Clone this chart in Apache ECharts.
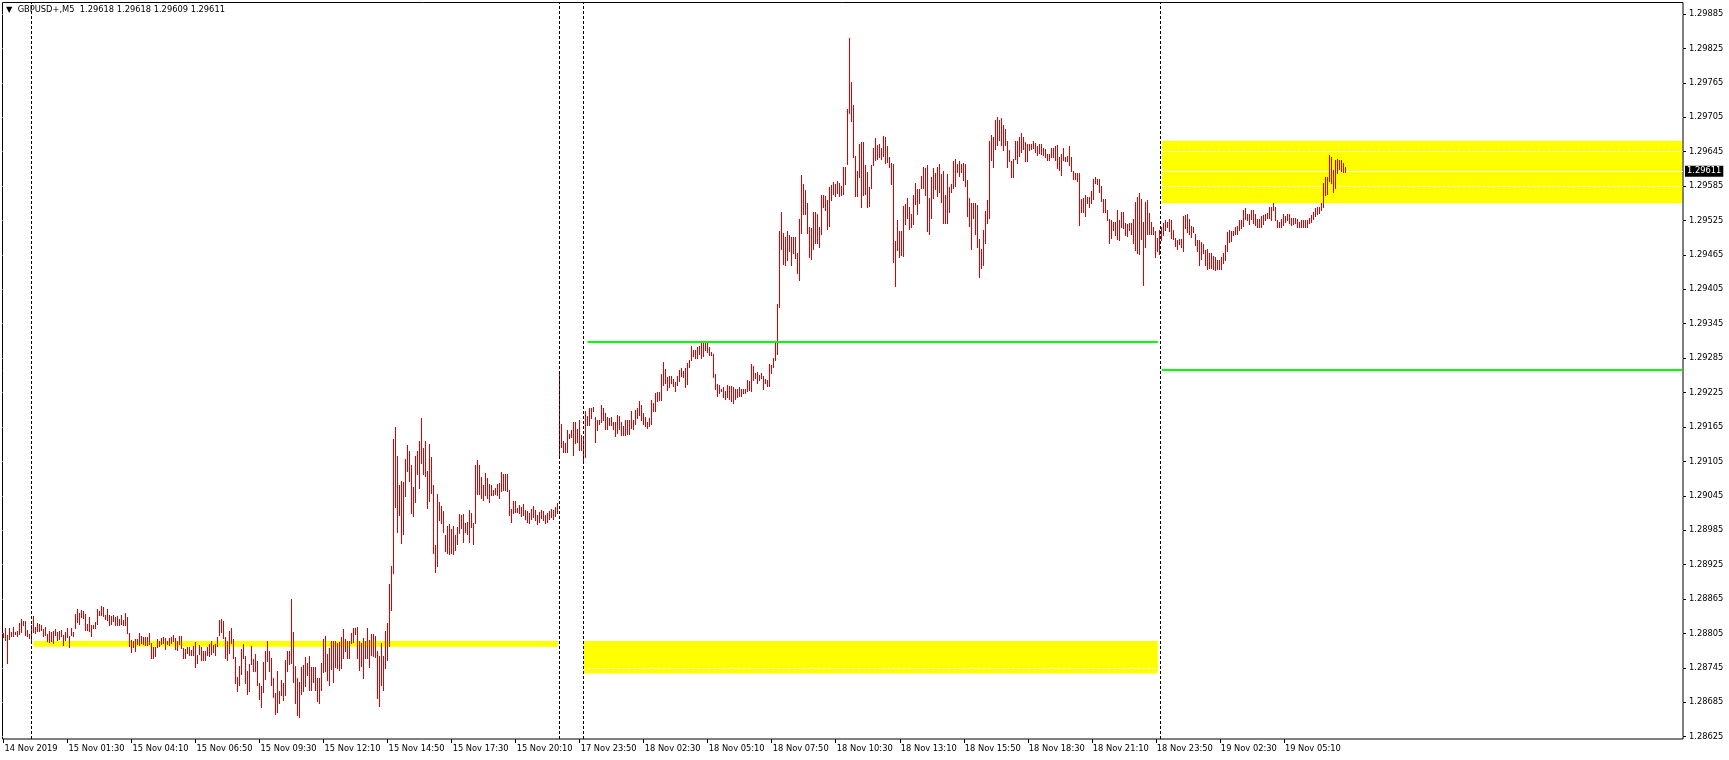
<!DOCTYPE html>
<html><head><meta charset="utf-8">
<script src="https://cdn.jsdelivr.net/npm/echarts@6/dist/echarts.min.js"></script>
<style>html,body{margin:0;padding:0;background:#fff}#c{width:1729px;height:760px}</style>
</head><body><div id="c"></div>
<script>
// ---------- data ----------
const chartTitle = '\u25BC  GBPUSD+,M5  1.29618 1.29618 1.29609 1.29611';
const xLabels = ['14 Nov 2019','15 Nov 01:30','15 Nov 04:10','15 Nov 06:50','15 Nov 09:30','15 Nov 12:10','15 Nov 14:50','15 Nov 17:30','15 Nov 20:10','17 Nov 23:50','18 Nov 02:30','18 Nov 05:10','18 Nov 07:50','18 Nov 10:30','18 Nov 13:10','18 Nov 15:50','18 Nov 18:30','18 Nov 21:10','18 Nov 23:50','19 Nov 02:30','19 Nov 05:10'];
const barsPerLabel = 32;
const slotCount = 840;
const yTicks = [1.28625,1.28685,1.28745,1.28805,1.28865,1.28925,1.28985,1.29045,1.29105,1.29165,1.29225,1.29285,1.29345,1.29405,1.29465,1.29525,1.29585,1.29645,1.29705,1.29765,1.29825,1.29885];
const yMin = 1.28621, yMax = 1.29905;

const nov14High = [1.28806,1.28814,1.28803,1.28814,1.28808,1.28817,1.28807,1.28810,1.28824,1.28831,1.28827,1.28827,1.28811,1.28804];
const nov14Low  = [1.28798,1.28794,1.28753,1.28795,1.28801,1.28801,1.28804,1.28801,1.28804,1.28807,1.28820,1.28803,1.28800,1.28797];

const nov15High = [
1.28820,1.28836,1.28817,1.28824,1.28822,1.28820,1.28812,1.28816,1.28804,1.28810,
1.28807,1.28810,1.28813,1.28807,1.28810,1.28811,1.28803,1.28808,1.28815,1.28801,
1.28814,1.28807,1.28839,1.28848,1.28840,1.28846,1.28844,1.28839,1.28821,1.28833,
1.28820,1.28820,1.28825,1.28847,1.28845,1.28853,1.28851,1.28838,1.28848,1.28838,
1.28835,1.28838,1.28833,1.28836,1.28831,1.28838,1.28829,1.28841,1.28834,1.28806,
1.28794,1.28791,1.28796,1.28796,1.28806,1.28801,1.28799,1.28799,1.28799,1.28806,
1.28788,1.28782,1.28781,1.28796,1.28792,1.28797,1.28798,1.28797,1.28792,1.28797,
1.28799,1.28803,1.28797,1.28792,1.28800,1.28801,1.28779,1.28778,1.28782,1.28781,
1.28776,1.28783,1.28790,1.28768,1.28785,1.28781,1.28775,1.28775,1.28781,1.28786,
1.28791,1.28785,1.28786,1.28799,1.28828,1.28831,1.28826,1.28799,1.28791,1.28810,
1.28815,1.28795,1.28764,1.28729,1.28749,1.28778,1.28786,1.28765,1.28740,1.28752,
1.28784,1.28761,1.28770,1.28757,1.28718,1.28714,1.28756,1.28774,1.28791,1.28775,
1.28762,1.28727,1.28702,1.28740,1.28704,1.28724,1.28718,1.28759,1.28775,1.28775,
1.28865,1.28807,1.28749,1.28727,1.28721,1.28747,1.28750,1.28764,1.28753,1.28765,
1.28747,1.28747,1.28747,1.28727,1.28727,1.28753,1.28796,1.28801,1.28770,1.28779,
1.28791,1.28791,1.28791,1.28788,1.28790,1.28799,1.28813,1.28795,1.28792,1.28792,
1.28805,1.28814,1.28815,1.28817,1.28791,1.28788,1.28797,1.28791,1.28814,1.28794,
1.28804,1.28804,1.28801,1.28775,1.28765,1.28788,1.28765,1.28810,1.28824,1.28891,
1.28922,1.29144,1.29165,1.29114,1.29063,1.29071,1.29069,1.29109,1.29134,1.29123,
1.29098,1.29061,1.29114,1.29123,1.29141,1.29180,1.29128,1.29140,1.29089,1.29135,
1.29113,1.29064,1.28960,1.29048,1.29035,1.29028,1.29019,1.28977,1.28993,1.28996,
1.28987,1.28993,1.28977,1.28991,1.29013,1.29011,1.29013,1.28998,1.28999,1.29021,
1.29015,1.28998,1.29098,1.29108,1.29099,1.29078,1.29064,1.29085,1.29076,1.29065,
1.29064,1.29055,1.29058,1.29065,1.29067,1.29086,1.29083,1.29083,1.29083,1.29055,
1.29022,1.29036,1.29036,1.29023,1.29029,1.29025,1.29030,1.29020,1.29018,1.29015,
1.29022,1.29028,1.29020,1.29012,1.29016,1.29020,1.29018,1.29012,1.29015,1.29018,
1.29022,1.29020,1.29026,1.29032];
const nov15Low = [
1.28794,1.28808,1.28805,1.28810,1.28810,1.28811,1.28800,1.28803,1.28791,1.28790,
1.28791,1.28788,1.28803,1.28794,1.28796,1.28801,1.28785,1.28794,1.28798,1.28782,
1.28803,1.28800,1.28815,1.28825,1.28822,1.28833,1.28832,1.28811,1.28811,1.28810,
1.28801,1.28814,1.28814,1.28821,1.28837,1.28838,1.28835,1.28831,1.28828,1.28820,
1.28822,1.28826,1.28819,1.28819,1.28819,1.28821,1.28820,1.28820,1.28805,1.28784,
1.28772,1.28782,1.28774,1.28786,1.28785,1.28788,1.28786,1.28785,1.28785,1.28786,
1.28762,1.28762,1.28765,1.28781,1.28784,1.28786,1.28788,1.28778,1.28786,1.28785,
1.28788,1.28792,1.28778,1.28777,1.28786,1.28779,1.28762,1.28762,1.28771,1.28767,
1.28768,1.28767,1.28747,1.28753,1.28769,1.28758,1.28758,1.28758,1.28768,1.28765,
1.28769,1.28772,1.28768,1.28784,1.28803,1.28808,1.28797,1.28762,1.28758,1.28771,
1.28788,1.28762,1.28718,1.28705,1.28716,1.28735,1.28762,1.28718,1.28700,1.28704,
1.28752,1.28739,1.28740,1.28716,1.28691,1.28676,1.28703,1.28726,1.28757,1.28740,
1.28716,1.28695,1.28664,1.28668,1.28683,1.28698,1.28689,1.28697,1.28739,1.28752,
1.28753,1.28720,1.28684,1.28663,1.28660,1.28699,1.28705,1.28714,1.28733,1.28707,
1.28707,1.28720,1.28707,1.28688,1.28684,1.28707,1.28738,1.28739,1.28724,1.28716,
1.28743,1.28721,1.28746,1.28745,1.28742,1.28745,1.28762,1.28774,1.28763,1.28762,
1.28788,1.28790,1.28804,1.28762,1.28741,1.28749,1.28727,1.28762,1.28762,1.28746,
1.28768,1.28765,1.28764,1.28693,1.28678,1.28716,1.28706,1.28745,1.28759,1.28784,
1.28846,1.28910,1.29026,1.28982,1.29012,1.28962,1.28978,1.29044,1.29089,1.29070,
1.29015,1.29009,1.29034,1.29083,1.29058,1.29102,1.29083,1.29080,1.29023,1.29036,
1.29050,1.28945,1.28913,1.28922,1.29003,1.28997,1.28982,1.28949,1.28945,1.28944,
1.28945,1.28943,1.28950,1.28961,1.28980,1.28989,1.28965,1.28982,1.28978,1.28965,
1.28990,1.28961,1.28997,1.29049,1.29048,1.29041,1.29037,1.29047,1.29041,1.29035,
1.29047,1.29046,1.29049,1.29046,1.29042,1.29053,1.29055,1.29055,1.29054,1.29011,
1.29000,1.29015,1.29016,1.29016,1.29015,1.29010,1.29012,1.29005,1.29000,1.28998,
1.29004,1.29008,1.29002,1.28996,1.28999,1.29006,1.29002,1.28998,1.29000,1.29004,
1.29008,1.29005,1.29010,1.29015];

const nov17High = [1.29262,1.29170,1.29141,1.29137,1.29160,1.29153,1.29160,1.29174,1.29174,1.29162,1.29177,1.29151];
const nov17Low  = [1.29114,1.29130,1.29122,1.29122,1.29122,1.29145,1.29147,1.29116,1.29137,1.29138,1.29124,1.29124];

const nov18High = [
1.29144,1.29193,1.29184,1.29198,1.29198,1.29199,1.29182,1.29178,1.29177,1.29203,
1.29198,1.29190,1.29183,1.29180,1.29183,1.29174,1.29173,1.29186,1.29184,1.29174,
1.29167,1.29177,1.29177,1.29177,1.29193,1.29177,1.29195,1.29198,1.29211,1.29203,
1.29189,1.29183,1.29174,1.29180,1.29212,1.29206,1.29224,1.29226,1.29226,1.29257,
1.29278,1.29266,1.29252,1.29253,1.29254,1.29248,1.29244,1.29254,1.29264,1.29267,
1.29262,1.29267,1.29276,1.29282,1.29306,1.29300,1.29300,1.29304,1.29306,1.29312,
1.29313,1.29314,1.29313,1.29305,1.29296,1.29292,1.29257,1.29240,1.29238,1.29232,
1.29235,1.29228,1.29238,1.29237,1.29237,1.29235,1.29232,1.29232,1.29235,1.29231,
1.29232,1.29232,1.29247,1.29246,1.29275,1.29271,1.29259,1.29260,1.29256,1.29259,
1.29253,1.29248,1.29247,1.29275,1.29273,1.29285,1.29314,1.29379,1.29507,1.29540,
1.29504,1.29497,1.29507,1.29500,1.29496,1.29496,1.29496,1.29469,1.29527,1.29604,
1.29589,1.29578,1.29556,1.29514,1.29511,1.29539,1.29540,1.29537,1.29513,1.29569,
1.29569,1.29568,1.29560,1.29584,1.29587,1.29592,1.29589,1.29593,1.29590,1.29585,
1.29618,1.29619,1.29719,1.29843,1.29766,1.29726,1.29637,1.29612,1.29659,1.29662,
1.29662,1.29622,1.29610,1.29584,1.29622,1.29651,1.29668,1.29657,1.29658,1.29651,
1.29672,1.29670,1.29655,1.29635,1.29626,1.29623,1.29490,1.29526,1.29507,1.29506,
1.29550,1.29554,1.29564,1.29549,1.29537,1.29569,1.29590,1.29580,1.29580,1.29603,
1.29618,1.29616,1.29622,1.29564,1.29601,1.29616,1.29608,1.29619,1.29623,1.29606,
1.29612,1.29570,1.29606,1.29584,1.29589,1.29629,1.29633,1.29623,1.29628,1.29623,
1.29625,1.29623,1.29596,1.29565,1.29555,1.29556,1.29555,1.29552,1.29493,1.29476,
1.29508,1.29542,1.29561,1.29664,1.29674,1.29670,1.29701,1.29705,1.29701,1.29703,
1.29691,1.29685,1.29664,1.29647,1.29629,1.29632,1.29663,1.29663,1.29670,1.29677,
1.29670,1.29662,1.29658,1.29658,1.29659,1.29663,1.29660,1.29655,1.29658,1.29659,
1.29651,1.29649,1.29641,1.29641,1.29652,1.29651,1.29655,1.29656,1.29635,1.29641,
1.29651,1.29636,1.29637,1.29655,1.29636,1.29612,1.29608,1.29608,1.29607,1.29563,
1.29564,1.29569,1.29566,1.29566,1.29577,1.29597,1.29600,1.29598,1.29598,1.29585,
1.29563,1.29562,1.29543,1.29528,1.29526,1.29523,1.29523,1.29543,1.29526,1.29540,
1.29540,1.29521,1.29519,1.29520,1.29520,1.29527,1.29557,1.29566,1.29573,1.29563,
1.29523,1.29557,1.29561,1.29538,1.29522,1.29513,1.29507,1.29495];
const nov18Low = [
1.29108,1.29112,1.29169,1.29169,1.29180,1.29192,1.29138,1.29160,1.29171,1.29174,
1.29178,1.29162,1.29161,1.29169,1.29169,1.29162,1.29149,1.29155,1.29161,1.29151,
1.29151,1.29151,1.29153,1.29153,1.29163,1.29162,1.29171,1.29180,1.29186,1.29177,
1.29170,1.29166,1.29164,1.29167,1.29171,1.29192,1.29192,1.29211,1.29212,1.29212,
1.29238,1.29241,1.29230,1.29235,1.29241,1.29237,1.29227,1.29238,1.29246,1.29253,
1.29252,1.29235,1.29240,1.29270,1.29282,1.29289,1.29285,1.29285,1.29293,1.29286,
1.29289,1.29299,1.29296,1.29291,1.29291,1.29252,1.29231,1.29219,1.29224,1.29227,
1.29218,1.29213,1.29218,1.29213,1.29211,1.29207,1.29213,1.29218,1.29219,1.29219,
1.29224,1.29225,1.29228,1.29230,1.29227,1.29247,1.29250,1.29241,1.29247,1.29250,
1.29232,1.29241,1.29237,1.29237,1.29259,1.29269,1.29282,1.29293,1.29375,1.29476,
1.29449,1.29447,1.29456,1.29471,1.29447,1.29469,1.29459,1.29434,1.29422,1.29504,
1.29536,1.29537,1.29503,1.29462,1.29457,1.29476,1.29486,1.29485,1.29479,1.29501,
1.29548,1.29544,1.29510,1.29515,1.29561,1.29572,1.29568,1.29573,1.29568,1.29569,
1.29571,1.29589,1.29623,1.29712,1.29699,1.29636,1.29567,1.29567,1.29601,1.29549,
1.29569,1.29571,1.29548,1.29550,1.29581,1.29622,1.29630,1.29632,1.29636,1.29633,
1.29637,1.29626,1.29627,1.29619,1.29589,1.29453,1.29410,1.29474,1.29461,1.29464,
1.29463,1.29519,1.29530,1.29510,1.29514,1.29519,1.29554,1.29536,1.29555,1.29581,
1.29581,1.29569,1.29506,1.29501,1.29529,1.29565,1.29579,1.29567,1.29575,1.29558,
1.29521,1.29521,1.29520,1.29540,1.29574,1.29581,1.29585,1.29610,1.29603,1.29610,
1.29596,1.29585,1.29532,1.29515,1.29476,1.29529,1.29501,1.29479,1.29427,1.29442,
1.29447,1.29485,1.29520,1.29529,1.29630,1.29619,1.29649,1.29657,1.29666,1.29657,
1.29648,1.29657,1.29618,1.29629,1.29601,1.29600,1.29632,1.29625,1.29637,1.29645,
1.29649,1.29629,1.29629,1.29648,1.29649,1.29651,1.29645,1.29640,1.29642,1.29641,
1.29639,1.29636,1.29630,1.29631,1.29636,1.29636,1.29631,1.29616,1.29613,1.29604,
1.29630,1.29629,1.29629,1.29622,1.29612,1.29597,1.29598,1.29594,1.29517,1.29540,
1.29540,1.29532,1.29555,1.29548,1.29555,1.29563,1.29590,1.29588,1.29575,1.29559,
1.29540,1.29540,1.29526,1.29486,1.29494,1.29508,1.29500,1.29492,1.29491,1.29514,
1.29511,1.29500,1.29498,1.29509,1.29501,1.29486,1.29473,1.29468,1.29466,1.29492,
1.29412,1.29478,1.29502,1.29501,1.29501,1.29502,1.29461,1.29472];

const nov19High = [
1.29508,1.29514,1.29520,1.29526,1.29523,1.29527,1.29526,1.29508,1.29495,1.29491,
1.29492,1.29492,1.29532,1.29534,1.29536,1.29527,1.29515,1.29514,1.29501,1.29491,
1.29491,1.29488,1.29484,1.29473,1.29475,1.29469,1.29468,1.29463,1.29461,1.29456,
1.29456,1.29461,1.29468,1.29482,1.29505,1.29508,1.29507,1.29507,1.29514,1.29515,
1.29526,1.29526,1.29543,1.29546,1.29536,1.29536,1.29543,1.29543,1.29536,1.29528,
1.29528,1.29532,1.29534,1.29536,1.29538,1.29549,1.29549,1.29556,1.29548,1.29526,
1.29523,1.29527,1.29536,1.29532,1.29536,1.29536,1.29529,1.29529,1.29529,1.29527,
1.29523,1.29525,1.29525,1.29525,1.29526,1.29530,1.29534,1.29540,1.29546,1.29548,
1.29548,1.29555,1.29591,1.29600,1.29600,1.29639,1.29636,1.29613,1.29631,1.29633,
1.29631,1.29630,1.29625,1.29618];
const nov19Low = [
1.29466,1.29491,1.29500,1.29508,1.29514,1.29507,1.29494,1.29493,1.29480,1.29476,
1.29484,1.29479,1.29471,1.29511,1.29505,1.29501,1.29497,1.29505,1.29482,1.29471,
1.29447,1.29457,1.29468,1.29447,1.29441,1.29443,1.29443,1.29441,1.29439,1.29440,
1.29440,1.29440,1.29450,1.29456,1.29472,1.29488,1.29490,1.29500,1.29501,1.29501,
1.29508,1.29511,1.29515,1.29527,1.29525,1.29519,1.29527,1.29520,1.29517,1.29513,
1.29514,1.29513,1.29519,1.29525,1.29529,1.29530,1.29526,1.29543,1.29526,1.29513,
1.29514,1.29513,1.29517,1.29523,1.29526,1.29521,1.29517,1.29519,1.29521,1.29513,
1.29513,1.29514,1.29513,1.29514,1.29513,1.29520,1.29523,1.29527,1.29532,1.29536,
1.29538,1.29543,1.29548,1.29569,1.29571,1.29593,1.29590,1.29575,1.29581,1.29607,
1.29614,1.29612,1.29610,1.29609];

const daySeparators = [14, 278, 290, 578];          // bar index of each new trading day
const yellowZones = [                               // [fromBar, toBar, lowPrice, highPrice]
  [15, 277, 1.28782, 1.28792],
  [290, 577, 1.28735, 1.28792],
  [579, 839, 1.29555, 1.29664]
];
const greenLevels = [                               // [fromBar, toBar, price]
  [292, 577, 1.29314],
  [579, 839, 1.29264]
];
const bidPrice = 1.29611;

// ---------- build ----------
const highs = [].concat(nov14High, nov15High, nov17High, nov18High, nov19High);
const lows  = [].concat(nov14Low,  nov15Low,  nov17Low,  nov18Low,  nov19Low);
const barData = highs.map((h, i) => [i, lows[i], h]);
const categories = Array.from({length: slotCount}, (_, i) => String(i));
const FONT = 'DejaVu Sans';
const BAR_COLOR = '#e00000';
const isLabelSlot = (idx) => idx % barsPerLabel === 0 && idx / barsPerLabel < xLabels.length;

const chart = echarts.init(document.getElementById('c'), null, {renderer: 'canvas'});
chart.setOption({
  animation: false,
  backgroundColor: '#ffffff',
  title: {
    text: chartTitle, left: 6, top: 6, padding: 0,
    textStyle: {fontFamily: FONT, fontSize: 8.3, fontWeight: 'normal', color: '#000'}
  },
  grid: {
    left: 2.5, top: 2.5, width: 1680.5, height: 736.5,
    show: true, borderColor: '#000', borderWidth: 1, backgroundColor: 'transparent',
    containLabel: false, outerBoundsMode: 'none'
  },
  xAxis: {
    type: 'category', data: categories, boundaryGap: true,
    axisLine: {show: false},
    axisTick: {show: true, alignWithLabel: true, length: 4, interval: isLabelSlot, lineStyle: {color: '#000'}},
    axisLabel: {
      show: true, interval: isLabelSlot, align: 'left', margin: 6, padding: [0, 0, 0, 1],
      formatter: (v, idx) => xLabels[Math.round(Number(v) / barsPerLabel)] || '',
      fontFamily: FONT, fontSize: 8.3, color: '#000'
    },
    splitLine: {show: false}
  },
  yAxis: {
    type: 'value', position: 'right', min: yMin, max: yMax, scale: true,
    axisLine: {show: false},
    axisTick: {show: true, inside: false, length: 3, customValues: yTicks, lineStyle: {color: '#000'}},
    axisLabel: {show: true, customValues: yTicks, margin: 6, formatter: v => Number(v).toFixed(5),
      fontFamily: FONT, fontSize: 8.3, color: '#000'},
    splitLine: {show: true, lineStyle: {color: '#ffffff', type: [3, 2], width: 1}}
  },
  series: [
    {
      name: 'zones', type: 'scatter', data: [], z: -2, silent: true,
      markArea: {
        silent: true, z: -2,
        itemStyle: {color: '#ffff00', borderWidth: 0, opacity: 1},
        label: {show: false},
        data: yellowZones.map(z => [{coord: [z[0], z[3]]}, {coord: [z[1], z[2]]}])
      }
    },
    {
      name: 'separators', type: 'scatter', data: [], z: 5, silent: true,
      markLine: {
        silent: true, symbol: 'none', animation: false,
        label: {show: false},
        lineStyle: {color: '#000', type: [3, 2], width: 1},
        data: daySeparators.map(i => ({xAxis: i}))
      }
    },
    {
      name: 'levels', type: 'scatter', data: [], z: 4, silent: true,
      markLine: {
        silent: true, symbol: 'none', animation: false,
        label: {show: false},
        lineStyle: {color: '#00ff00', type: 'solid', width: 2},
        data: greenLevels.map(l => [{coord: [l[0], l[2]]}, {coord: [l[1], l[2]]}])
      }
    },
    {
      name: 'GBPUSD+', type: 'custom', z: 3, silent: true,
      data: barData,
      encode: {x: 0, y: [1, 2]},
      renderItem: (params, api) => {
        const lo = api.coord([api.value(0), api.value(1)]);
        const hi = api.coord([api.value(0), api.value(2)]);
        const x = Math.floor(lo[0]);
        const top = Math.round(hi[1]);
        const bottom = Math.max(top + 1, Math.round(lo[1]) + 1);
        return {
          type: 'rect',
          shape: {x: x, y: top, width: 1, height: bottom - top},
          style: {fill: BAR_COLOR}
        };
      },
      markLine: {
        silent: true, symbol: 'none', animation: false, z: 2,
        lineStyle: {color: '#ffffff', type: 'solid', width: 1},
        label: {show: true, position: 'end', distance: 2, formatter: () => bidPrice.toFixed(5),
          backgroundColor: '#000', color: '#fff', padding: [2, 2, 1, 2],
          fontFamily: FONT, fontSize: 8.3},
        data: [[{coord: [0, bidPrice]}, {coord: [slotCount - 1, bidPrice], x: 1683}]]
      }
    }
  ]
});
</script>
</body></html>
